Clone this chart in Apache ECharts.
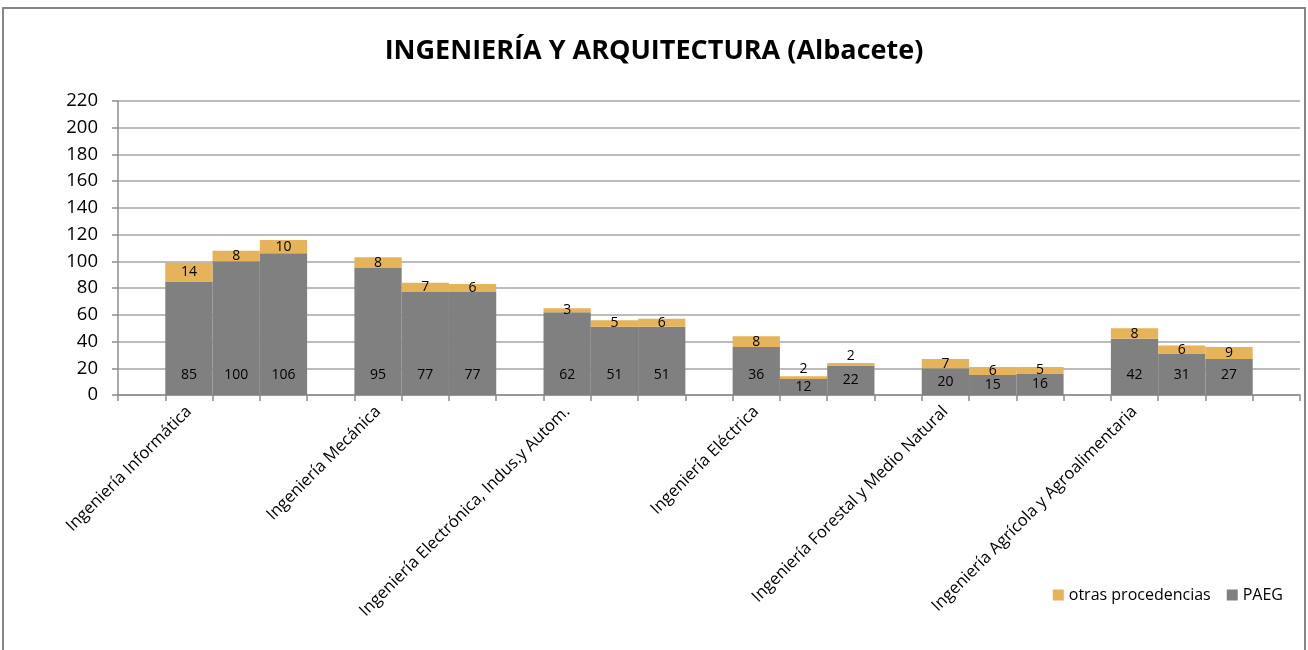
<!DOCTYPE html>
<html>
<head>
<meta charset="utf-8">
<script src="https://cdn.jsdelivr.net/npm/echarts@6/dist/echarts.min.js"></script>
<style>
	html, body { margin: 0; padding: 0; background: #ffffff; }
	#chart { width: 1308px; height: 650px; }
</style>
</head>
<body>
<div id="chart"></div>
<script>
// grupos del eje x
var grupos = [
	'Ingeniería Informática',
	'Ingeniería Mecánica',
	'Ingeniería Electrónica, Indus.y Autom.',
	'Ingeniería Eléctrica',
	'Ingeniería Forestal y Medio Natural',
	'Ingeniería Agrícola y Agroalimentaria'
];
// tres barras por grupo
var paeg = [
	[85, 100, 106],
	[95, 77, 77],
	[62, 51, 51],
	[36, 12, 22],
	[20, 15, 16],
	[42, 31, 27]
];
var otras = [
	[14, 8, 10],
	[8, 7, 6],
	[3, 5, 6],
	[8, 2, 2],
	[7, 6, 5],
	[8, 6, 9]
];
var yTicks = [0, 20, 40, 60, 80, 100, 120, 140, 160, 180, 200, 220];

// cada grupo: hueco + 3 barras, y un hueco final
var categorias = [];
var datosPaeg = [];
var datosOtras = [];
grupos.forEach(function (g, i) {
	categorias.push('');
	datosPaeg.push('-');
	datosOtras.push('-');
	for (var k = 0; k < 3; k++) {
		categorias.push(k == 0 ? g : '');
		var v = paeg[i][k];
		datosPaeg.push({
			value: v,
			label: v < 25 ? { position: 'inside' } : {}
		});
		var o = otras[i][k];
		datosOtras.push({
			value: o,
			label: o <= 2 ? { position: 'top', distance: 0 } : {}
		});
	}
});
categorias.push('');
datosPaeg.push('-');
datosOtras.push('-');

var chart = echarts.init(document.getElementById('chart'), null, { renderer: 'canvas' });
var fuente = 'Open Sans';
var option = {
	backgroundColor: '#ffffff',
	animation: false,
	color: ['#808080', '#E4B35A'],
	title: {
		text: 'INGENIERÍA Y ARQUITECTURA (Albacete)',
		left: 'center',
		top: 33,
		textStyle: {
			fontFamily: fuente,
			fontSize: 27,
			fontWeight: 'bold',
			color: '#000000'
		}
	},
	graphic: [{
		type: 'rect',
		silent: true,
		shape: { x: 3, y: 8, width: 1302, height: 700 },
		style: { fill: 'none', stroke: '#868686', lineWidth: 2 }
	}],
	legend: {
		right: 20,
		top: 582,
		itemWidth: 11,
		itemHeight: 11,
		itemGap: 16,
		icon: 'rect',
		data: ['otras procedencias', 'PAEG'],
		textStyle: { fontFamily: fuente, fontSize: 16, color: '#000000' }
	},
	grid: {
		left: 118,
		right: 8,
		top: 101,
		bottom: 255
	},
	xAxis: {
		type: 'category',
		data: categorias,
		boundaryGap: true,
		axisLine: { lineStyle: { color: '#8C8C8C', width: 1.5 } },
		axisTick: { show: true, interval: 0, length: 6, lineStyle: { color: '#8C8C8C', width: 1.5 } },
		axisLabel: {
			interval: 0,
			rotate: 45,
			margin: 14,
			fontFamily: fuente,
			fontSize: 16.5,
			color: '#000000'
		}
	},
	yAxis: {
		type: 'value',
		min: yTicks[0],
		max: yTicks[yTicks.length - 1],
		interval: yTicks[1] - yTicks[0],
		axisLine: { show: true, lineStyle: { color: '#8C8C8C', width: 1.5 } },
		axisTick: { show: true, length: 6, lineStyle: { color: '#8C8C8C', width: 1.5 } },
		axisLabel: {
			margin: 20,
			fontFamily: fuente,
			fontSize: 18.5,
			color: '#000000'
		},
		splitLine: { lineStyle: { color: '#A6A6A6', width: 1.5 } }
	},
	series: [{
		name: 'PAEG',
		type: 'bar',
		stack: 'total',
		barCategoryGap: 0,
		data: datosPaeg,
		label: {
			show: true,
			position: 'insideBottom',
			distance: 13,
			fontFamily: fuente,
			fontSize: 14,
			color: '#000000'
		}
	}, {
		name: 'otras procedencias',
		type: 'bar',
		stack: 'total',
		barCategoryGap: 0,
		data: datosOtras,
		label: {
			show: true,
			position: 'inside',
			fontFamily: fuente,
			fontSize: 14,
			color: '#000000'
		}
	}]
};
chart.setOption(option);
</script>
</body>
</html>
